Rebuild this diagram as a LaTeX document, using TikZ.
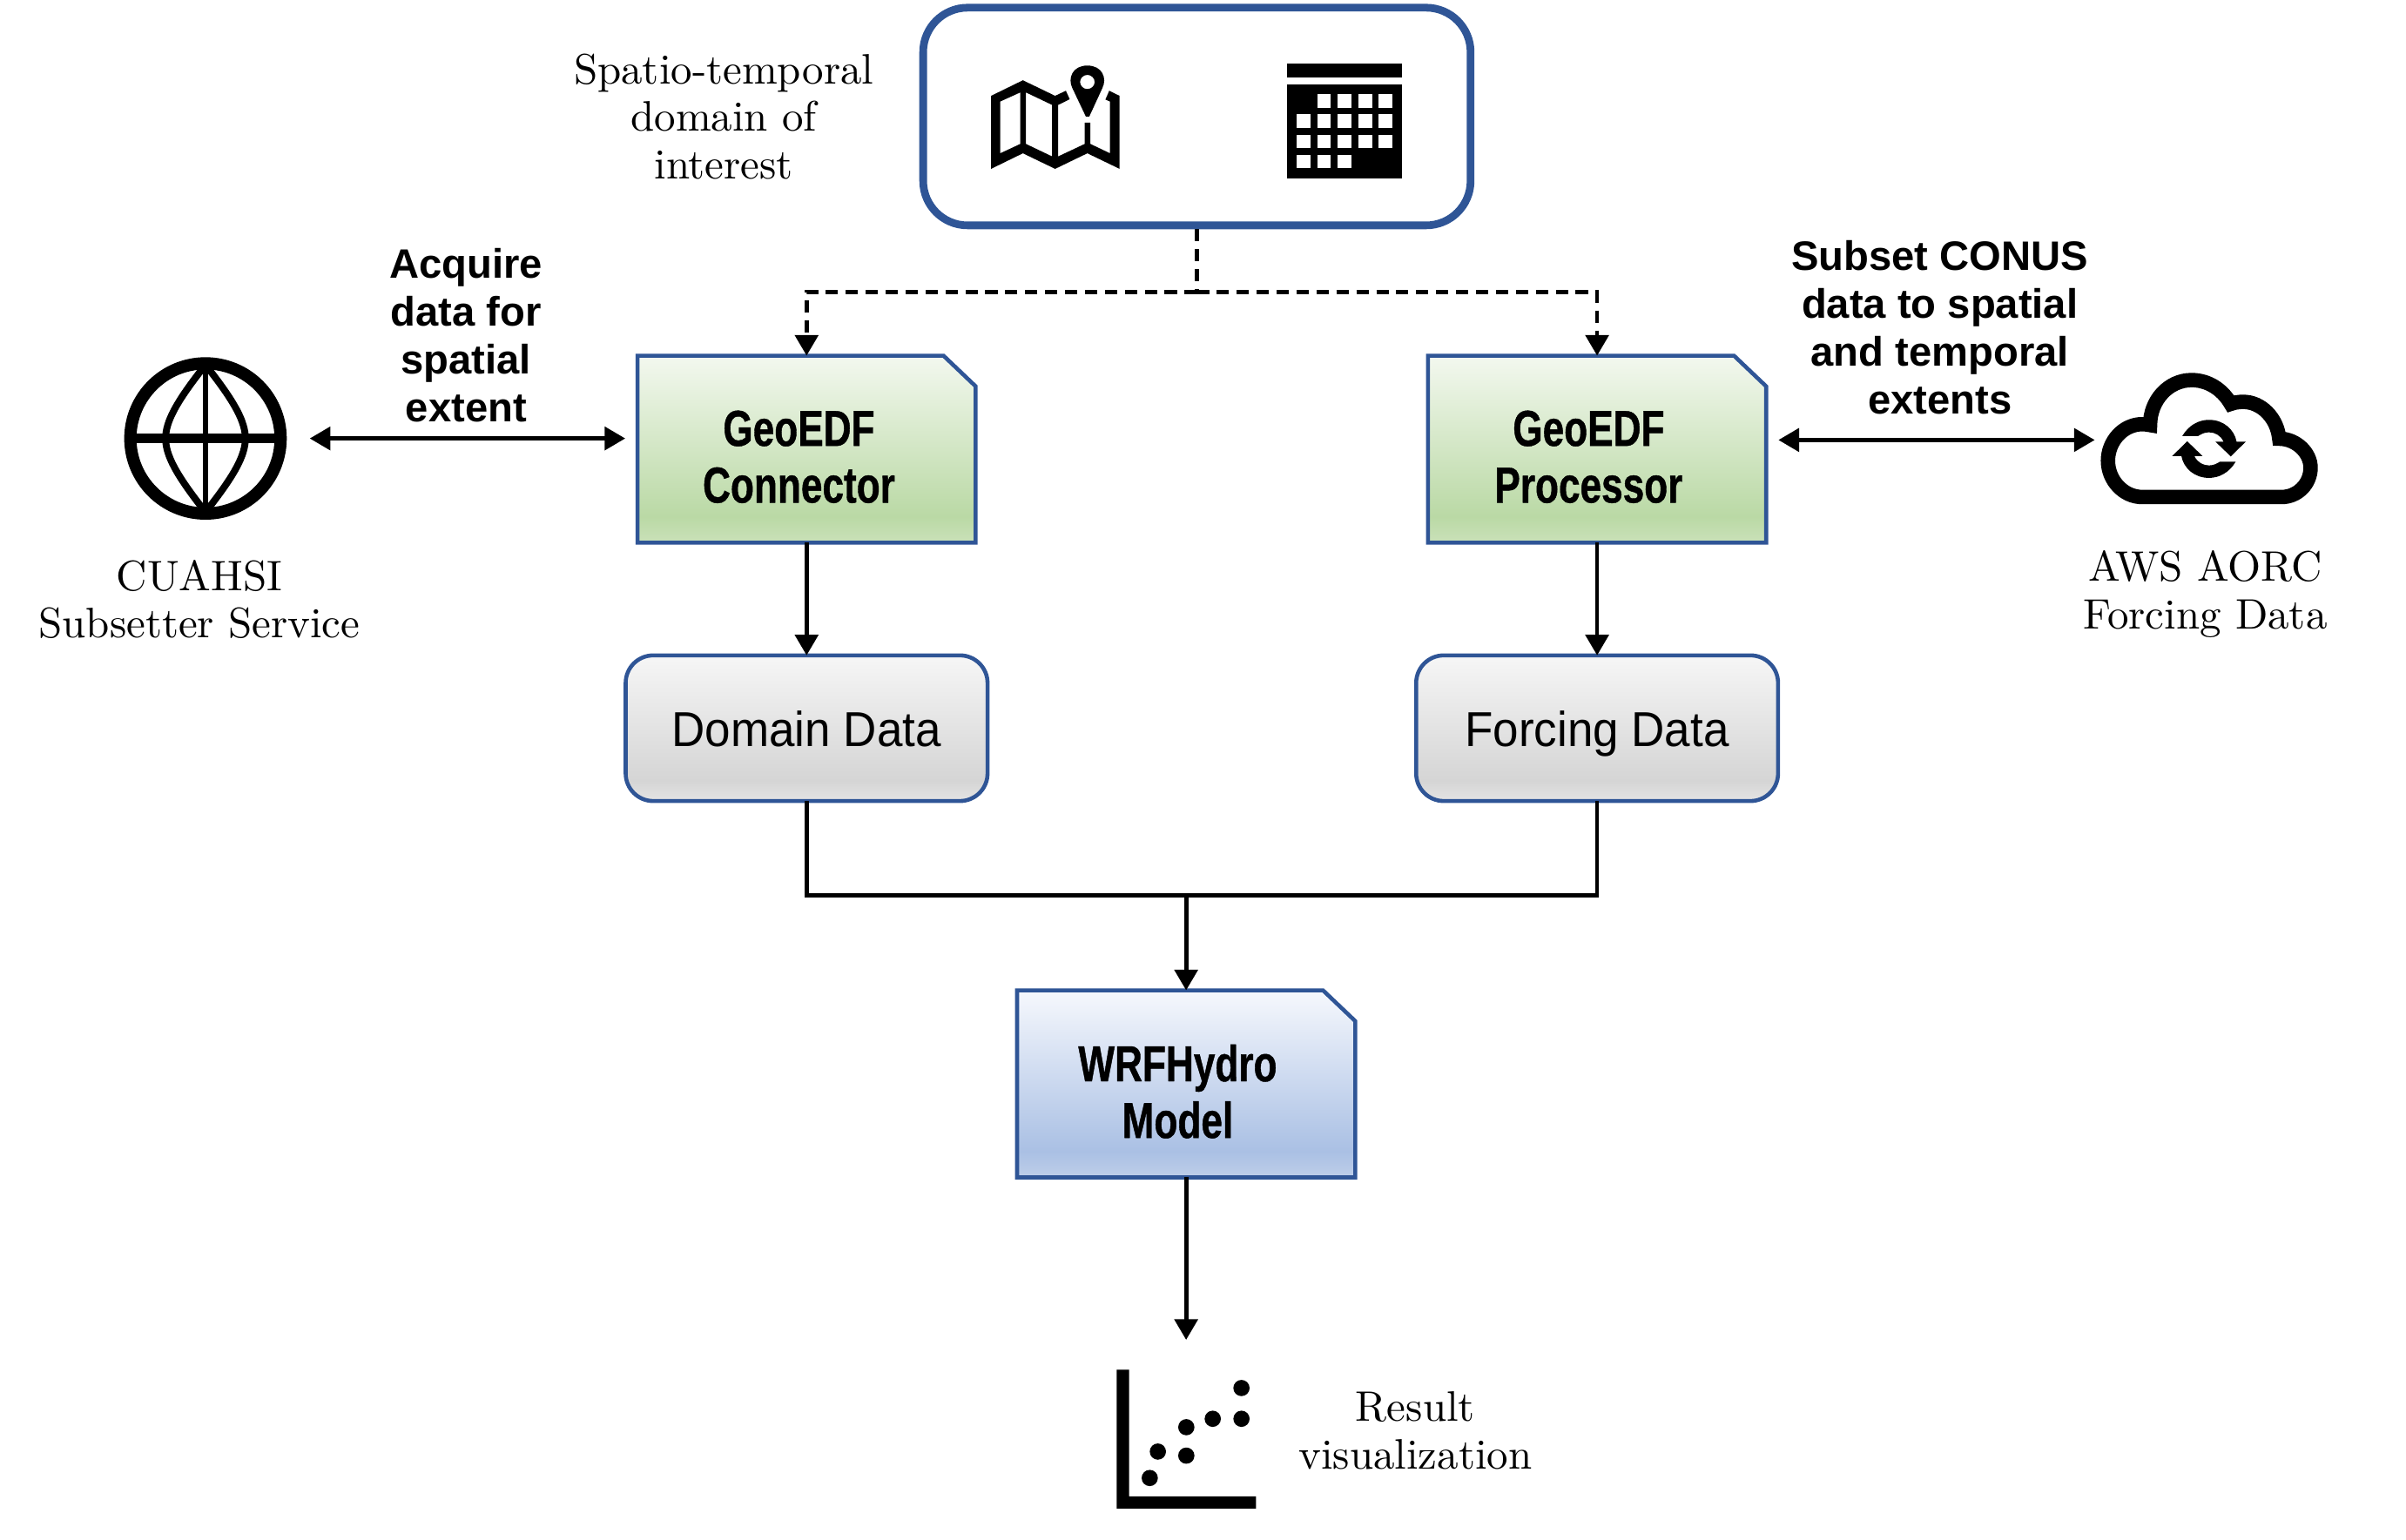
\documentclass[tikz,border=0pt]{standalone}
\usepackage{fontspec}
\usetikzlibrary{arrows.meta,calc}
\newfontfamily\hv{Liberation Sans}
\newfontfamily\hvdata[FakeStretch=0.94]{Liberation Sans}
\newfontfamily\hvcond[FakeStretch=0.76,FakeBold=0.7]{Liberation Sans Bold}
\newfontfamily\lmten[Ligatures=TeX]{lmroman10-regular.otf}
\definecolor{edgeblue}{RGB}{47,85,150}
\definecolor{gbot}{RGB}{202,225,185}\definecolor{gmid}{RGB}{186,217,165}\definecolor{gtop}{RGB}{243,248,239}
\definecolor{bbot}{RGB}{190,206,233}\definecolor{bmid}{RGB}{170,192,228}\definecolor{btop}{RGB}{246,248,253}
\definecolor{kbot}{RGB}{228,228,228}\definecolor{kmid}{RGB}{213,213,213}\definecolor{ktop}{RGB}{246,246,246}
\pgfdeclareverticalshading{greenfill}{100bp}{color(0bp)=(gbot);color(25bp)=(gbot);color(32bp)=(gmid);color(75bp)=(gtop);color(100bp)=(gtop)}
\pgfdeclareverticalshading{bluefill}{100bp}{color(0bp)=(bbot);color(25bp)=(bbot);color(32bp)=(bmid);color(75bp)=(btop);color(100bp)=(btop)}
\pgfdeclareverticalshading{grayfill}{100bp}{color(0bp)=(kbot);color(25bp)=(kbot);color(32bp)=(kmid);color(75bp)=(ktop);color(100bp)=(ktop)}
\newcommand{\snipbox}[4]{%
  \node[snipanchor] (#1) at (#2,#3) {};
  \shade[shading=#4,draw=edgeblue,line width=2.6pt,miter limit=10]
    (#1.north west) -- ($(#1.north east)+(-21,0)$) -- ($(#1.north east)+(0,20)$)
    -- (#1.south east) -- (#1.south west) -- cycle;}
\tikzset{
  x=1pt,y=-1pt,
  snipanchor/.style={rectangle,minimum width=220.5pt,minimum height=122pt,inner sep=0pt,outer sep=0pt},
  databox/.style={rectangle,rounded corners=18pt,draw=edgeblue,line width=2.6pt,shading=grayfill,
    minimum width=236pt,minimum height=95pt,inner sep=0pt,outer sep=0pt,
    text height=26pt,text depth=2pt,
    font=\hvdata\fontsize{32}{38}\selectfont},
  serifnote/.style={align=center,inner sep=0pt,font=\lmten\fontsize{27.8}{31}\selectfont},
  boldnote/.style={align=center,inner sep=0pt,font=\hv\bfseries\fontsize{26.8}{31.2}\selectfont},
  boxtext/.style={align=center,inner sep=0pt,font=\hvcond\fontsize{33}{37}\selectfont},
  iconbox/.style={rectangle,inner sep=0pt,outer sep=0pt},
  link/.style={line width=2.7pt,-{Triangle[length=13.5pt,width=15pt]}},
  plainlink/.style={line width=2.7pt},
  dashlink/.style={line width=2.7pt,dash pattern=on 8pt off 5pt,-{Triangle[length=13.5pt,width=15pt]}},
  biglink/.style={line width=2.7pt,{Triangle[length=13.5pt,width=15pt]}-{Triangle[length=13.5pt,width=15pt]}},
}
\begin{document}
\begin{tikzpicture}
\useasboundingbox (0,0) rectangle (1569,1004.5);

% top box
\node[rectangle,rounded corners=29pt,draw=edgeblue,line width=5pt,fill=white,
  minimum width=357pt,minimum height=142pt,outer sep=2.5pt] (domain) at (780.5,76) {};

% map icon
\begin{scope}[shift={(598,2.15)},x=.2502pt,y=-.1846pt]
\fill[even odd rule] (193,327)--(276,272)--(360,327)--(388,309)--(398,339)--(368,359)--(368,541)--(437,497)--(437,422)--(452,422)--(452,497)--(503,530)--(503,347)--(491,340)--(501,309)--(528,327)--(528,585)--(444,530)--(360,585)--(276,530)--(193,585)--cycle
 (217,347)--(269,315)--(269,497)--(217,530)--cycle
 (284,315)--(352,359)--(352,541)--(284,497)--cycle;
\fill[even odd rule] (440,400)--(405,300) .. controls (392,265) and (405,220) .. (444,220) .. controls (483,220) and (496,265) .. (483,300)--(449,400)--cycle
 (463,278) arc[start angle=0,end angle=360,x radius=19,y radius=25];
\end{scope}
% calendar
\begin{scope}[shift={(599.5,1.6)},x=.2502pt,y=-.1846pt]
\fill (958,217) rectangle (1259,265);
\fill (958,289) rectangle (1259,621);
\foreach \cx/\cy in {1037/324,1091/324,1144/324,1197/324,
  984/395,1037/395,1091/395,1144/395,1197/395,
  984/467,1037/467,1091/467,1144/467,1197/467,
  984/538,1037/538,1091/538}
  \fill[white] (\cx,\cy) rectangle ++(36,48);
\end{scope}

\node[serifnote] (domlabel) at (472,76) {Spatio-temporal\\domain of\\interest};

% process boxes
\snipbox{conn}{526}{293}{greenfill}
\node[boxtext] (conntext) at (521,298) {GeoEDF\\Connector};
\snipbox{proc}{1041.5}{293}{greenfill}
\node[boxtext] (proctext) at (1036,298) {GeoEDF\\Processor};
\snipbox{model}{773.5}{707}{bluefill}
\node[boxtext] (modeltext) at (768,712) {WRFHydro\\Model};
\node[databox] (ddata) at (526,475) {Domain Data};
\node[databox] (fdata) at (1041.5,475) {Forcing Data};

% globe
\node[iconbox,minimum width=106pt,minimum height=106pt] (globe) at (134,286) {};
\draw[line width=8pt] (134,286) circle (49);
\draw[line width=4.5pt] (134,238) .. controls (115,262) and (108,275) .. (108,286) .. controls (108,297) and (115,310) .. (134,334);
\draw[line width=4.5pt] (134,238) .. controls (153,262) and (160,275) .. (160,286) .. controls (160,297) and (153,310) .. (134,334);
\draw[line width=3pt] (134,238) -- (134,334);
\draw[line width=6pt] (85,286) -- (183,286);
\node[serifnote] (globelabel) at (130,391) {CUAHSI\\Subsetter Service};
\node[boldnote] (acq) at (304,218.5) {Acquire\\data for\\spatial\\extent};

% cloud
\node[iconbox,minimum width=142pt,minimum height=86pt] (cloud) at (1440,287) {};
\begin{scope}[shift={(1362.9,227.1)},x=.1893pt,y=-.1893pt]
\draw[line width=9.4pt,miter limit=10] (180,513) -- (660,513) .. controls (715,513) and (760,468) .. (760,412) .. controls (760,360) and (710,312) .. (652,312)
 .. controls (645,240) and (590,185) .. (528,185) .. controls (510,185) and (495,188) .. (485,192)
 .. controls (455,140) and (405,110) .. (350,110) .. controls (270,110) and (207,180) .. (207,265)
 .. controls (195,263) and (190,262) .. (180,262) .. controls (115,262) and (62,320) .. (62,388) .. controls (62,455) and (115,513) .. (180,513) -- cycle;
\fill (318,303) .. controls (340,265) and (375,247) .. (410,247) .. controls (460,247) and (497,280) .. (505,322) -- (537,322) -- (485,373) -- (432,322) -- (460,322) .. controls (450,300) and (430,290) .. (410,290) .. controls (395,290) and (385,295) .. (372,303) -- cycle;
\fill (502,391) .. controls (480,429) and (445,447) .. (410,447) .. controls (360,447) and (323,414) .. (315,372) -- (283,372) -- (335,321) -- (388,372) -- (360,372) .. controls (370,394) and (390,404) .. (410,404) .. controls (425,404) and (435,399) .. (448,391) -- cycle;
\end{scope}
\node[serifnote] (cloudlabel) at (1438,387.5) {AWS AORC\\Forcing Data};
\node[boldnote] (subset) at (1265,213.5) {Subset CONUS\\data to spatial\\and temporal\\extents};

% scatter
\node[iconbox,minimum width=91pt,minimum height=91pt] (scatter) at (773.5,938.5) {};
\begin{scope}[shift={(715.5,885.9)},x=.1893pt,y=-.1893pt]
\fill (67,40) -- (110,40) -- (110,476) -- (547,476) -- (547,518) -- (67,518) -- cycle;
\foreach \dx/\dy in {181/413,209/322,307/238,307/336,398/209,497/209,497/103}
  \fill (\dx,\dy) circle (28);
\end{scope}
\node[serifnote] (scatterlabel) at (923,933) {Result\\visualization};

% connectors
\coordinate (split) at ($(domain.south)+(0,41)$);
\draw[plainlink,dash pattern=on 8pt off 5pt] (domain.south) -- (split);
\draw[dashlink] (split) -| (conn.north);
\draw[dashlink] (split) -| (proc.north);
\draw[biglink,shorten <=15pt,shorten >=8pt] (globe.east) -- (globe.east -| conn.west);
\draw[biglink,shorten <=8pt,shorten >=3pt] (cloud.west -| proc.east) -- (cloud.west);
\draw[link] (conn.south) -- (ddata.north);
\draw[link] (proc.south) -- (fdata.north);
\coordinate (merge) at (773.5,584);
\draw[plainlink] (ddata.south) |- (merge);
\draw[plainlink] (fdata.south) |- (merge);
\draw[link] (merge) -- (model.north);
\draw[link,shorten >=19pt] (model.south) -- (scatter.north);
\end{tikzpicture}
\end{document}
